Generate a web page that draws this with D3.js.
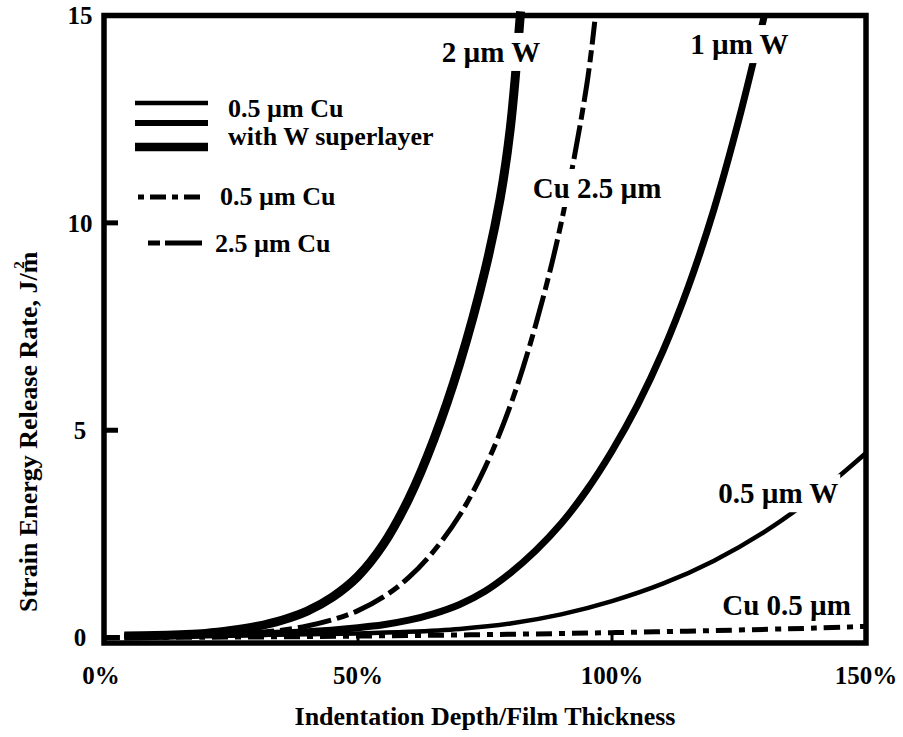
<!DOCTYPE html>
<html>
<head>
<meta charset="utf-8">
<script src="https://cdn.jsdelivr.net/npm/d3@7"></script>
<style>
  html, body { margin: 0; padding: 0; background: #fff; }
  svg { display: block; }
  text { font-family: "Liberation Serif", "Times New Roman", serif; font-weight: bold; fill: #000; }
</style>
</head>
<body>
<svg id="chart" width="903" height="737"></svg>
<script>
// Indentation depth (% of film thickness) and strain energy release rate (J/m²)
const depth2W  = [4, 10, 15, 20, 25, 30, 35, 40, 45, 50, 55, 60, 65, 70, 75, 78, 80, 82];
const g2W      = [0.04, 0.05, 0.07, 0.1, 0.17, 0.27, 0.42, 0.64, 0.98, 1.48, 2.25, 3.35, 4.8, 6.6, 8.85, 10.6, 12.3, 15.1];

const depth1W  = [4, 10, 20, 30, 40, 50, 55, 60, 65, 70, 75, 80, 85, 90, 95, 100, 105, 110, 115, 120, 125, 130];
const g1W      = [0.04, 0.04, 0.06, 0.09, 0.14, 0.24, 0.31, 0.42, 0.58, 0.8, 1.12, 1.56, 2.1, 2.75, 3.55, 4.5, 5.6, 6.9, 8.45, 10.3, 12.5, 15.0];

const depth05W = [4, 20, 40, 50, 60, 70, 80, 90, 100, 110, 120, 130, 140, 150];
const g05W     = [0.04, 0.05, 0.08, 0.1, 0.14, 0.21, 0.34, 0.56, 0.88, 1.3, 1.85, 2.55, 3.42, 4.45];

const depthCu25 = [4, 10, 20, 30, 35, 40, 45, 50, 55, 60, 65, 70, 75, 80, 85, 90, 95, 96.6];
const gCu25     = [0.03, 0.04, 0.06, 0.12, 0.18, 0.28, 0.43, 0.65, 0.98, 1.45, 2.1, 2.95, 4.1, 5.6, 7.55, 10.0, 13.3, 14.85];

const depthCu05 = [0, 20, 40, 60, 80, 100, 120, 140, 150];
const gCu05     = [0, 0.01, 0.025, 0.05, 0.08, 0.12, 0.17, 0.23, 0.27];

const xTickValues = [0, 50, 100, 150];
const yTickValues = [0, 5, 10, 15];

const seriesLabels = ["2 µm W", "1 µm W", "0.5 µm W", "Cu 2.5 µm", "Cu 0.5 µm"];
const legendLabels = ["0.5 µm Cu", "with W superlayer", "0.5 µm Cu", "2.5 µm Cu"];

const xTitle = "Indentation Depth/Film Thickness";
const yTitle = "Strain Energy Release Rate, J/m";

const svg = d3.select("#chart");

const x = d3.scaleLinear().domain([0, 150]).range([104, 866]);
const y = d3.scaleLinear().domain([-0.13, 15]).range([643, 15.5]);

const line = d3.line()
  .x(d => x(d[0]))
  .y(d => y(d[1]))
  .curve(d3.curveCatmullRom.alpha(0.5));

const zip = (a, b) => a.map((v, i) => [v, b[i]]);

// curve styles: W superlayer films solid (thicker for thicker W), bare Cu dashed
const series = [
  { pts: zip(depth2W, g2W),     width: 9,   dash: null },
  { pts: zip(depth1W, g1W),     width: 7,   dash: null },
  { pts: zip(depth05W, g05W),   width: 4.5, dash: null },
  { pts: zip(depthCu25, gCu25), width: 5,   dash: "34,6,12,6" },
  { pts: zip(depthCu05, gCu05), width: 5,   dash: "16,7,6,7" }
];

// frame
svg.append("rect")
  .attr("x", x(0)).attr("y", y(15))
  .attr("width", x(150) - x(0)).attr("height", y(-0.13) - y(15))
  .attr("fill", "none").attr("stroke", "#000").attr("stroke-width", 5.5);

// inner ticks
svg.append("g").selectAll("line").data(yTickValues.filter(v => v < 15)).join("line")
  .attr("x1", x(0)).attr("x2", x(0) + 14)
  .attr("y1", d => y(d)).attr("y2", d => y(d))
  .attr("stroke", "#000").attr("stroke-width", 5);

svg.append("g").selectAll("line").data(xTickValues.filter(v => v > 0 && v < 150)).join("line")
  .attr("x1", d => x(d)).attr("x2", d => x(d))
  .attr("y1", y(-0.13)).attr("y2", y(-0.13) - 9)
  .attr("stroke", "#000").attr("stroke-width", 3);

// tick labels
svg.append("g").selectAll("text").data(yTickValues).join("text")
  .attr("x", 80).attr("y", d => y(d)).attr("dy", "0.35em")
  .attr("text-anchor", "middle").attr("font-size", 25)
  .text(d => d);

svg.append("g").selectAll("text").data(xTickValues).join("text")
  .attr("x", d => x(d) - (d === 0 ? 3 : 0)).attr("y", 684)
  .attr("text-anchor", "middle").attr("font-size", 25)
  .text(d => d + "%");

// axis titles
svg.append("text")
  .attr("x", (x(0) + x(150)) / 2).attr("y", 725)
  .attr("text-anchor", "middle").attr("font-size", 26)
  .text(xTitle);

const yt = svg.append("text")
  .attr("transform", "translate(37,612) rotate(-90)")
  .attr("text-anchor", "start").attr("font-size", 26)
  .text(yTitle);
yt.append("tspan").attr("font-size", 15).attr("dx", -17).attr("dy", -13).text("2");

// curves
svg.append("g").selectAll("path").data(series).join("path")
  .attr("d", d => line(d.pts))
  .attr("fill", "none").attr("stroke", "#000")
  .attr("stroke-width", d => d.width)
  .attr("stroke-dasharray", d => d.dash);

// in-plot labels on white boxes (boxes interrupt the curves beneath)
const labelAnchors = [[66.5, 13.88], [115.4, 14.07], [120.9, 3.24], [84.4, 10.6], [121.7, 0.54]];
const lab = svg.append("g");
seriesLabels.forEach((t, i) => {
  const g = lab.append("g");
  const txt = g.append("text")
    .attr("x", x(labelAnchors[i][0])).attr("y", y(labelAnchors[i][1]))
    .attr("font-size", 29).text(t);
  const b = txt.node().getBBox();
  g.insert("rect", "text")
    .attr("x", b.x - 2).attr("y", b.y - 3)
    .attr("width", b.width + 4).attr("height", b.height + 6)
    .attr("fill", "#fff");
});

// legend
const leg = svg.append("g");
[4.5, 6, 8.5].forEach((w, i) => {
  leg.append("line")
    .attr("x1", 135).attr("x2", 208)
    .attr("y1", [103, 123, 147][i]).attr("y2", [103, 123, 147][i])
    .attr("stroke", "#000").attr("stroke-width", w);
});
leg.append("text").attr("x", 228).attr("y", 117).attr("font-size", 26).text(legendLabels[0]);
leg.append("text").attr("x", 228).attr("y", 145).attr("font-size", 26).text(legendLabels[1]);

leg.append("line")
  .attr("x1", 138).attr("x2", 202).attr("y1", 197).attr("y2", 197)
  .attr("stroke", "#000").attr("stroke-width", 5).attr("stroke-dasharray", "6,6,16,6");
leg.append("text").attr("x", 220).attr("y", 205).attr("font-size", 26).text(legendLabels[2]);

leg.append("line")
  .attr("x1", 148).attr("x2", 202).attr("y1", 243).attr("y2", 243)
  .attr("stroke", "#000").attr("stroke-width", 5).attr("stroke-dasharray", "12,5,37,5");
leg.append("text").attr("x", 215).attr("y", 252).attr("font-size", 26).text(legendLabels[3]);
</script>
</body>
</html>
